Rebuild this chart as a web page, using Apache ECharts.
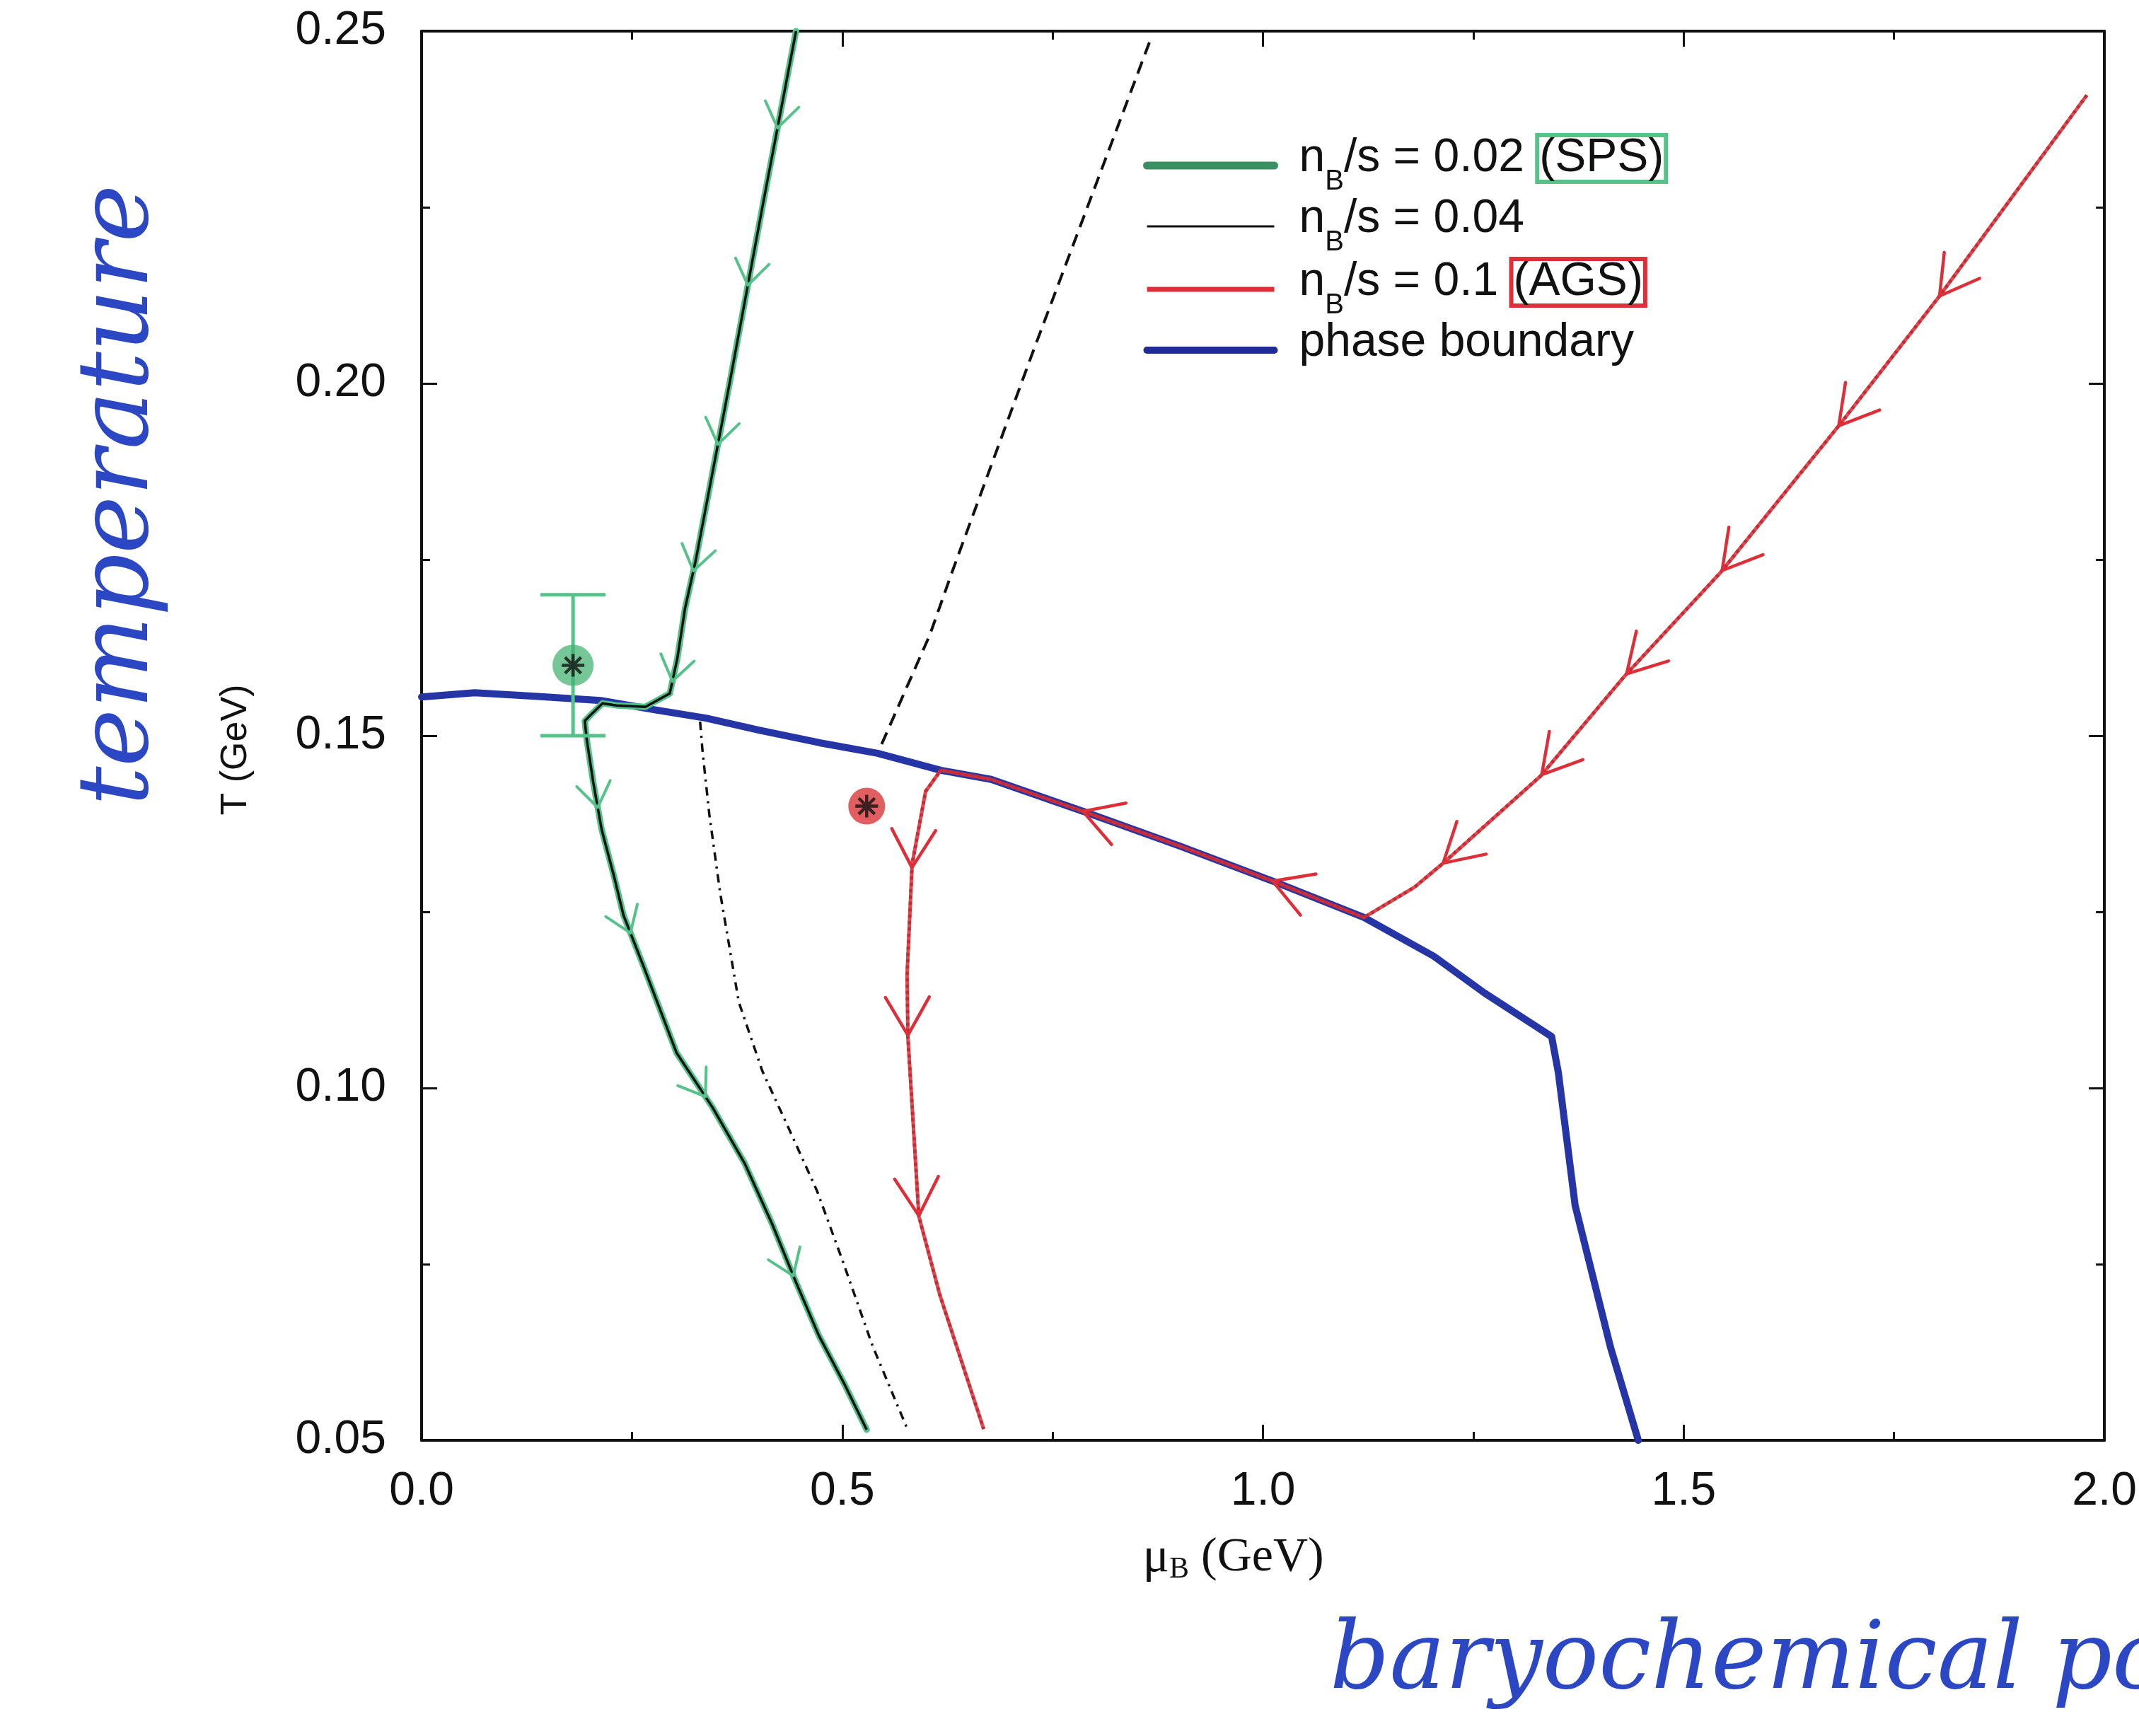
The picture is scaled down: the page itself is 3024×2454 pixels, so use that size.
<!DOCTYPE html>
<html>
<head>
<meta charset="utf-8">
<script src="https://cdn.jsdelivr.net/npm/echarts@6/dist/echarts.min.js"></script>
<style>
html,body{margin:0;padding:0;background:#fff;}
#chart{width:3024px;height:2454px;}
</style>
</head>
<body>
<div id="chart"></div>
<script>
// ---------------- DATA ----------------
// axis tick values
const xTickValues = [0.0, 0.5, 1.0, 1.5, 2.0];
const yTickValues = [0.05, 0.10, 0.15, 0.20, 0.25];

// phase boundary (mu_B [GeV], T [GeV])
const phaseBoundary = [
  [0.000,0.1555],[0.063,0.1561],[0.135,0.1556],[0.213,0.1550],[0.281,0.1536],
  [0.338,0.1525],[0.401,0.1508],[0.473,0.1490],[0.542,0.1475],[0.617,0.1451],
  [0.677,0.1438],[0.790,0.1391],[0.902,0.1343],[1.015,0.1292],[1.120,0.1242],
  [1.203,0.1187],[1.263,0.1135],[1.343,0.1073],[1.351,0.1022],[1.371,0.0833],
  [1.413,0.0632],[1.446,0.0500]
];

// n_B/s = 0.02 (SPS) trajectory, in direction of flow
const traj002 = [
  [0.445,0.2500],[0.405,0.2250],[0.366,0.2000],[0.326,0.1750],[0.313,0.1680],
  [0.304,0.1610],[0.295,0.1560],[0.266,0.1541],[0.232,0.1543],[0.215,0.1546],
  [0.203,0.1532],[0.194,0.1521],[0.196,0.1497],[0.204,0.1434],[0.214,0.1367],
  [0.229,0.1299],[0.240,0.1245],[0.264,0.1172],[0.303,0.1050],[0.346,0.0972],
  [0.384,0.0893],[0.417,0.0806],[0.444,0.0727],[0.472,0.0649],[0.502,0.0581],
  [0.529,0.0515]
];

// n_B/s = 0.04 trajectory: upper (dashed) part incl. the stretch along the boundary
const traj004Upper = [
  [0.865,0.2484],[0.726,0.2043],[0.631,0.1734],[0.604,0.1643],[0.542,0.1475],
  [0.473,0.1490],[0.401,0.1508],[0.338,0.1525],[0.331,0.1520]
];
// n_B/s = 0.04 trajectory: lower (dash-dot) part
const traj004Lower = [
  [0.331,0.1520],[0.334,0.1477],[0.342,0.1388],[0.355,0.1276],[0.377,0.1122],
  [0.405,0.1024],[0.437,0.0941],[0.470,0.0854],[0.500,0.0756],[0.536,0.0634],
  [0.577,0.0517]
];

// n_B/s = 0.1 (AGS) trajectory, in direction of flow
const traj01 = [
  [1.979,0.2409],[1.804,0.2124],[1.685,0.1941],[1.544,0.1732],[1.430,0.1585],
  [1.330,0.1443],[1.213,0.1318],[1.180,0.1285],[1.120,0.1242],[1.015,0.1292],
  [0.902,0.1343],[0.790,0.1391],[0.677,0.1438],[0.617,0.1451],[0.599,0.1421],
  [0.583,0.1318],[0.577,0.1161],[0.578,0.1072],[0.591,0.0818],[0.616,0.0706],
  [0.668,0.0516]
];

// hand-drawn flow arrows (positions along the trajectories)
const arrows002 = [
  [0.430,0.2361],[0.390,0.2139],[0.363,0.1911],[0.319,0.1735],[0.299,0.1577],
  [0.209,0.1398],[0.244,0.1218],[0.335,0.0986],[0.439,0.0732]
];
const arrows01 = [
  [1.804,0.2124],[1.682,0.1942],[1.544,0.1736],[1.431,0.1589],[1.329,0.1447],
  [1.215,0.1318],[1.011,0.1292],[0.786,0.1393],[0.580,0.1313],[0.578,0.1075],
  [0.594,0.0819]
];

// freeze-out points
const spsPoint = [0.180, 0.160];
const spsErr = [0.150, 0.170];
const agsPoint = [0.529, 0.140];

// texts
const seriesNames = ['n_B/s = 0.02 (SPS)', 'n_B/s = 0.04', 'n_B/s = 0.1 (AGS)', 'phase boundary'];
const handTextY = 'temperature';
const handTextX = 'baryochemical potential';

// ---------------- STYLE ----------------
const GREEN = '#55c28a';
const RED = '#de2f38';
const BLUE = '#2535a6';
const INK = '#111111';
const HAND = '#2b47c3';

function asteriskPath() {
  const parts = [];
  const R = 10, w = 1.4;
  [0, 45, 90, 135].forEach(function (deg) {
    const t = deg * Math.PI / 180, c = Math.cos(t), s = Math.sin(t);
    const pts = [[-R,-w],[R,-w],[R,w],[-R,w]].map(function (p) {
      return [p[0]*c - p[1]*s, p[0]*s + p[1]*c];
    });
    parts.push('M' + pts.map(function (p) { return p[0].toFixed(3) + ' ' + p[1].toFixed(3); }).join(' L') + ' Z');
  });
  return 'path://' + parts.join(' ');
}
const ASTERISK = asteriskPath();

function arrowSeries(name, traj, pts, color, armLen, halfDeg, lw) {
  return {
    name: name, type: 'custom', coordinateSystem: 'cartesian2d',
    data: pts, encode: {x: 0, y: 1}, z: 6, silent: true,
    renderItem: function (params, api) {
      const p = api.coord([api.value(0), api.value(1)]);
      let best = null;
      for (let i = 0; i < traj.length - 1; i++) {
        const a = api.coord(traj[i]), b = api.coord(traj[i + 1]);
        const vx = b[0] - a[0], vy = b[1] - a[1];
        const L2 = vx * vx + vy * vy || 1;
        let t = ((p[0] - a[0]) * vx + (p[1] - a[1]) * vy) / L2;
        t = Math.max(0, Math.min(1, t));
        const qx = a[0] + t * vx, qy = a[1] + t * vy;
        const d = (qx - p[0]) * (qx - p[0]) + (qy - p[1]) * (qy - p[1]);
        if (!best || d < best.d) best = {d: d, qx: qx, qy: qy, vx: vx, vy: vy};
      }
      const len = Math.hypot(best.vx, best.vy) || 1;
      const bx = -best.vx / len, by = -best.vy / len;
      const h = halfDeg * Math.PI / 180, c = Math.cos(h), s = Math.sin(h);
      const a1 = [best.qx + armLen * (bx * c - by * s), best.qy + armLen * (bx * s + by * c)];
      const a2 = [best.qx + armLen * (bx * c + by * s), best.qy + armLen * (-bx * s + by * c)];
      return {
        type: 'polyline',
        shape: {points: [a1, [best.qx, best.qy], a2]},
        style: {stroke: color, lineWidth: lw, fill: null, lineCap: 'round', lineJoin: 'round'}
      };
    }
  };
}

const tickFont = {fontFamily: 'Liberation Sans', fontSize: 66, color: INK};

function xAxisCfg(pos, showLabel) {
  return {
    type: 'value', position: pos, min: 0, max: 2, interval: 0.5,
    axisLine: {show: true, onZero: false, lineStyle: {color: INK, width: 4}},
    axisTick: {show: true, inside: true, length: 22, lineStyle: {color: INK, width: 3}},
    minorTick: {show: true, splitNumber: 2, length: 12, lineStyle: {color: INK, width: 3}},
    splitLine: {show: false}, minorSplitLine: {show: false},
    axisLabel: Object.assign({show: showLabel, margin: 40,
      formatter: function (v) { return v.toFixed(1); }}, tickFont)
  };
}
function yAxisCfg(pos, showLabel) {
  return {
    type: 'value', position: pos, min: 0.05, max: 0.25, interval: 0.05,
    axisLine: {show: true, onZero: false, lineStyle: {color: INK, width: 4}},
    axisTick: {show: true, inside: true, length: 22, lineStyle: {color: INK, width: 3}},
    minorTick: {show: true, splitNumber: 2, length: 12, lineStyle: {color: INK, width: 3}},
    splitLine: {show: false}, minorSplitLine: {show: false},
    axisLabel: Object.assign({show: showLabel, margin: 50,
      formatter: function (v) { return v.toFixed(2); }}, tickFont)
  };
}

const xBottom = xAxisCfg('bottom', true);
xBottom.name = '{mu|\u03bc}{sb|B}{g| (GeV)}';
xBottom.nameLocation = 'middle';
xBottom.nameGap = 132;
xBottom.nameTextStyle = {
  fontFamily: 'Liberation Serif', fontSize: 68, color: INK, padding: [0, 84, 0, 0],
  rich: {
    mu: {fontFamily: 'Liberation Serif', fontSize: 70, color: INK, lineHeight: 72, verticalAlign: 'top'},
    sb: {fontFamily: 'Liberation Serif', fontSize: 42, color: INK, lineHeight: 34, verticalAlign: 'bottom'},
    g: {fontFamily: 'Liberation Serif', fontSize: 68, color: INK, lineHeight: 72, verticalAlign: 'top'}
  }
};
const yLeft = yAxisCfg('left', true);
yLeft.name = 'T (GeV)';
yLeft.nameLocation = 'middle';
yLeft.nameRotate = 90;
yLeft.nameGap = 236;
yLeft.nameTextStyle = {fontFamily: 'Liberation Sans', fontSize: 52, color: INK, padding: [0, 40, 0, 0]};

const legendText = {};
legendText[seriesNames[0]] = '{gap| }{m|n}{sub|B}{m|/s = 0.02 }{sps|(SPS)}';
legendText[seriesNames[1]] = '{gap| }{m|n}{sub|B}{m|/s = 0.04}';
legendText[seriesNames[2]] = '{gap| }{m|n}{sub|B}{m|/s = 0.1 }{ags|(AGS)}';
legendText[seriesNames[3]] = '{gap| }{m|phase boundary}';

const option = {
  animation: false,
  backgroundColor: '#ffffff',
  grid: {left: 596, right: 46, top: 44, bottom: 418, containLabel: false},
  xAxis: [xBottom, xAxisCfg('top', false)],
  yAxis: [yLeft, yAxisCfg('right', false)],
  legend: {
    orient: 'vertical', left: 1616, top: 188, padding: 0, itemGap: 0,
    itemWidth: 180, itemHeight: 20, selectedMode: false,
    data: [
      {name: seriesNames[0], itemStyle: {opacity: 0}, lineStyle: {color: '#3b8f62', width: 11}},
      {name: seriesNames[1], itemStyle: {opacity: 0}, lineStyle: {color: INK, width: 3, type: 'solid'}},
      {name: seriesNames[2], itemStyle: {opacity: 0}, lineStyle: {color: RED, width: 7, opacity: 1}},
      {name: seriesNames[3], itemStyle: {opacity: 0}, lineStyle: {color: '#1f2b96', width: 10}}
    ],
    formatter: function (name) { return legendText[name] || name; },
    textStyle: {
      fontFamily: 'Liberation Sans', fontSize: 66, color: INK,
      rich: {
        gap: {width: 30, lineHeight: 86},
        m: {fontFamily: 'Liberation Sans', fontSize: 66, color: INK, lineHeight: 78, verticalAlign: 'top'},
        sub: {fontFamily: 'Liberation Sans', fontSize: 40, color: INK, lineHeight: 30, verticalAlign: 'bottom'},
        sps: {fontFamily: 'Liberation Sans', fontSize: 66, color: INK, lineHeight: 70, verticalAlign: 'top',
              borderColor: GREEN, borderWidth: 6, padding: [0, 3, 0, 3]},
        ags: {fontFamily: 'Liberation Sans', fontSize: 66, color: INK, lineHeight: 70, verticalAlign: 'top',
              borderColor: RED, borderWidth: 6, padding: [0, 3, 0, 3]}
      }
    }
  },
  graphic: [
    {type: 'text', x: 172, y: 700, rotation: Math.PI / 2, silent: true,
     style: {text: handTextY, fontFamily: 'DejaVu Serif', fontStyle: 'italic', fontSize: 138,
             fill: HAND, align: 'center', verticalAlign: 'middle'}},
    {type: 'text', x: 1880, y: 2352, silent: true,
     style: {text: handTextX, fontFamily: 'DejaVu Serif', fontStyle: 'italic', fontSize: 132,
             fill: HAND, align: 'left', verticalAlign: 'middle'}}
  ],
  series: [
    // n_B/s = 0.04 (thin black dashed, runs under the boundary)
    {name: seriesNames[1], type: 'line', data: traj004Upper, symbol: 'none', z: 2,
     itemStyle: {color: INK},
     lineStyle: {color: INK, width: 4, type: [18, 11]}},
    {name: 'n_B/s = 0.04 (below)', type: 'line', data: traj004Lower, symbol: 'none', z: 2,
     itemStyle: {color: INK},
     lineStyle: {color: INK, width: 3.5, type: [12, 8, 3, 8]}},
    // phase boundary
    {name: seriesNames[3], type: 'line', data: phaseBoundary, symbol: 'none', z: 3,
     itemStyle: {color: BLUE},
     lineStyle: {color: BLUE, width: 10, cap: 'round', join: 'round'}},
    // n_B/s = 0.02 : green highlight + black line
    {name: seriesNames[0], type: 'line', data: traj002, symbol: 'none', z: 4,
     itemStyle: {color: GREEN},
     lineStyle: {color: GREEN, width: 9, cap: 'round', join: 'round'}},
    {name: 'n_B/s = 0.02 (line)', type: 'line', data: traj002, symbol: 'none', z: 4,
     itemStyle: {color: INK},
     lineStyle: {color: INK, width: 3.5, join: 'round'}},
    // n_B/s = 0.1 : black dotted + red pen
    {name: 'n_B/s = 0.1 (dots)', type: 'line', data: traj01, symbol: 'none', z: 4,
     itemStyle: {color: INK},
     lineStyle: {color: INK, width: 4.5, type: 'dotted'}},
    {name: seriesNames[2], type: 'line', data: traj01, symbol: 'none', z: 4,
     itemStyle: {color: RED},
     lineStyle: {color: RED, width: 5, opacity: 0.88, join: 'round'}},
    // arrows
    arrowSeries('arrows 0.02', traj002, arrows002, GREEN, 42, 35, 4),
    arrowSeries('arrows 0.1', traj01, arrows01, RED, 62, 30, 4.5),
    // SPS error bar
    {name: 'SPS error', type: 'custom', coordinateSystem: 'cartesian2d', z: 7, silent: true,
     data: [[spsPoint[0], spsErr[0], spsErr[1]]], encode: {x: 0, y: [1, 2]},
     renderItem: function (params, api) {
       const lo = api.coord([api.value(0), api.value(1)]);
       const hi = api.coord([api.value(0), api.value(2)]);
       const w = 46, st = {stroke: GREEN, lineWidth: 5};
       return {type: 'group', children: [
         {type: 'line', shape: {x1: lo[0], y1: lo[1], x2: hi[0], y2: hi[1]}, style: st},
         {type: 'line', shape: {x1: lo[0] - w, y1: lo[1], x2: lo[0] + w, y2: lo[1]}, style: st},
         {type: 'line', shape: {x1: hi[0] - w, y1: hi[1], x2: hi[0] + w, y2: hi[1]}, style: st}
       ]};
     }},
    // freeze-out markers
    {name: 'SPS point', type: 'scatter', data: [spsPoint], symbol: 'circle', symbolSize: 58, z: 8,
     itemStyle: {color: 'rgba(64,178,112,0.9)'}},
    {name: 'AGS point', type: 'scatter', data: [agsPoint], symbol: 'circle', symbolSize: 52, z: 8,
     itemStyle: {color: 'rgba(214,38,40,0.92)'}},
    {name: 'freeze-out stars', type: 'scatter', data: [spsPoint, agsPoint], symbol: ASTERISK,
     symbolSize: 32, z: 9, itemStyle: {color: INK}}
  ]
};

const chart = echarts.init(document.getElementById('chart'), null, {renderer: 'canvas'});
chart.setOption(option);
</script>
</body>
</html>
